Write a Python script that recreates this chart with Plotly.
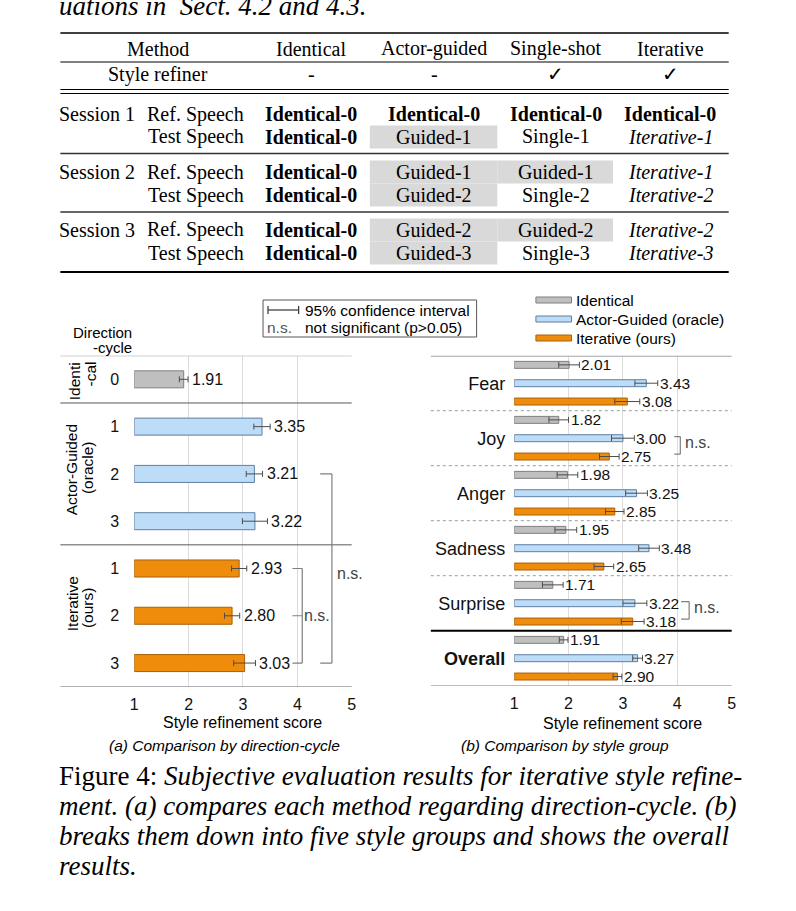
import plotly.graph_objects as go

W, H = 796, 911

# ---------------- data ----------------
intro_line = "uations in  Sect. 4.2 and 4.3."

table_header = ["Method", "Identical", "Actor-guided", "Single-shot", "Iterative"]
table_refiner = ["Style refiner", "-", "-", "✓", "✓"]
session_names = ["Session 1", "Session 2", "Session 3"]
speech_roles = ["Ref. Speech", "Test Speech"]
cells_identical = ["Identical-0", "Identical-0", "Identical-0", "Identical-0", "Identical-0", "Identical-0"]
cells_actor = ["Identical-0", "Guided-1", "Guided-1", "Guided-2", "Guided-2", "Guided-3"]
cells_single = ["Identical-0", "Single-1", "Guided-1", "Single-2", "Guided-2", "Single-3"]
cells_iterative = ["Identical-0", "Iterative-1", "Iterative-1", "Iterative-2", "Iterative-2", "Iterative-3"]

dir_groups = ["Identical", "Actor-Guided", "Actor-Guided", "Actor-Guided", "Iterative", "Iterative", "Iterative"]
dir_cycles = ["0", "1", "2", "3", "1", "2", "3"]
dir_scores = [1.91, 3.35, 3.21, 3.22, 2.93, 2.80, 3.03]
dir_ci = [0.08, 0.15, 0.15, 0.23, 0.14, 0.14, 0.20]

style_groups = ["Fear", "Joy", "Anger", "Sadness", "Surprise", "Overall"]
method_names = ["Identical", "Actor-Guided (oracle)", "Iterative (ours)"]
score_identical = [2.01, 1.82, 1.98, 1.95, 1.71, 1.91]
score_actor = [3.43, 3.00, 3.25, 3.48, 3.22, 3.27]
score_iterative = [3.08, 2.75, 2.85, 2.65, 3.18, 2.90]
ci_identical = [0.19, 0.18, 0.19, 0.20, 0.19, 0.08]
ci_actor = [0.21, 0.21, 0.20, 0.19, 0.22, 0.09]
ci_iterative = [0.23, 0.18, 0.17, 0.18, 0.21, 0.08]

score_ticks = [1, 2, 3, 4, 5]

caption_label = "Figure 4:"
caption_lines = [
    "Subjective evaluation results for iterative style refine-",
    "ment. (a) compares each method regarding direction-cycle. (b)",
    "breaks them down into five style groups and shows the overall",
    "results.",
]
sub_a = "(a) Comparison by direction-cycle"
sub_b = "(b) Comparison by style group"
axis_title = "Style refinement score"

# ---------------- style ----------------
SERIF = "Liberation Serif, Times New Roman, serif"
SANS = "Liberation Sans, Arial, sans-serif"
FILL = {"Identical": "#bfbfbf", "Actor-Guided": "#bddcf7", "Iterative": "#ef8c0c"}
EDGE = {"Identical": "#7f7f7f", "Actor-Guided": "#5f7fa3", "Iterative": "#a7620a"}
METHOD_KEYS = ["Identical", "Actor-Guided", "Iterative"]
PAD = 3  # annotation box padding compensation


def X(p):
    return p / W


def Y(p):
    return 1 - p / H


anns = []
shapes = []


def text(x, y, s, size, family=SANS, xanchor="center", color="#000", **kw):
    if xanchor == "left":
        x -= PAD
    elif xanchor == "right":
        x += PAD
    d = dict(x=X(x), y=Y(y), xref="paper", yref="paper", text=s, showarrow=False,
             xanchor=xanchor, yanchor=kw.pop("yanchor", "middle"),
             font=dict(family=family, size=size, color=color))
    d.update(kw)
    anns.append(d)


def hline(x0, x1, y, width=1.0, color="#000", dash="solid"):
    shapes.append(dict(type="line", xref="paper", yref="paper", x0=X(x0), x1=X(x1),
                       y0=Y(y), y1=Y(y), line=dict(width=width, color=color, dash=dash)))


def rect(x0, y0, x1, y1, fill="rgba(0,0,0,0)", line="rgba(0,0,0,0)", lw=0, layer="below"):
    shapes.append(dict(type="rect", xref="paper", yref="paper", x0=X(x0), x1=X(x1),
                       y0=Y(y0), y1=Y(y1), fillcolor=fill, line=dict(color=line, width=lw),
                       layer=layer))


# ---------------- top text + table ----------------
text(57, 6, "<i>" + intro_line + "</i>", 27, family=SERIF, xanchor="left")

TL, TR = 57, 733
col_x = [156, 311, 435, 558, 674]
hline(TL, TR, 33, 1.5)
for cx, h in zip(col_x, table_header):
    text(cx, 49, h, 20, family=SERIF)
hline(TL, TR, 62, 1)
for cx, h in zip(col_x, table_refiner):
    text(cx, 74, h, 20, family=SERIF)
hline(TL, TR, 89.5, 1)
hline(TL, TR, 93.5, 1)

row_y = [114, 137, 172, 195, 230, 253]
shade_bounds = {2: (370, 499), 3: (499, 616)}
columns = [cells_identical, cells_actor, cells_single, cells_iterative]
for i, ry in enumerate(row_y):
    if i % 2 == 0:
        text(57, ry, session_names[i // 2], 20, family=SERIF, xanchor="left")
    text(242, ry, speech_roles[i % 2], 20, family=SERIF, xanchor="right")
    for c, cells in enumerate(columns, start=1):
        v = cells[i]
        s = v
        if v.startswith("Identical"):
            s = "<b>" + v + "</b>"
        elif v.startswith("Iterative"):
            s = "<i>" + v + "</i>"
        elif v.startswith("Guided") and c in shade_bounds:
            x0, x1 = shade_bounds[c]
            rect(x0, ry - 11.5, x1, ry + 11.5, fill="#d9d9d9")
        text(col_x[c], ry, s, 20, family=SERIF)
hline(TL, TR, 153.5, 1.5, "#333")
hline(TL, TR, 212, 1.5, "#333")
hline(TL, TR, 272, 2.2)

# ---------------- left chart ----------------
L_X0, L_X1 = 131.7, 351.7
L_Y0, L_Y1 = 355.7, 686.7
R_X0, R_X1 = 516.0, 736.0
R_Y0, R_Y1 = 355.7, 685.7

dir_ids = [g + "-" + c for g, c in zip(dir_groups, dir_cycles)]

fig = go.Figure()
fig.add_trace(go.Bar(
    orientation="h", y=dir_ids, x=[s - 1 for s in dir_scores], base=1, width=0.36,
    marker=dict(color=[FILL[g] for g in dir_groups],
                line=dict(color=[EDGE[g] for g in dir_groups], width=1)),
    error_x=dict(type="data", array=dir_ci, color="#4d4d4d", thickness=1, width=3),
    xaxis="x", yaxis="y", hoverinfo="skip"))

for i, (s, e) in enumerate(zip(dir_scores, dir_ci)):
    anns.append(dict(x=s + e, y=dir_ids[i], xref="x", yref="y", text=f"{s:.2f}",
                     showarrow=False, xanchor="left", xshift=2,
                     font=dict(family=SANS, size=16, color="#111")))

# row separators
shapes.append(dict(type="line", xref="paper", yref="y", x0=X(57), x1=X(L_X1), y0=-0.5, y1=-0.5,
                   line=dict(color="#8c8c8c", width=1)))
for yy in (0.5, 3.5):
    shapes.append(dict(type="line", xref="paper", yref="y", x0=X(57), x1=X(L_X1), y0=yy, y1=yy,
                       line=dict(color="#595959", width=1)))
shapes.append(dict(type="line", xref="paper", yref="y", x0=X(57), x1=X(L_X1), y0=6.5, y1=6.5,
                   line=dict(color="#7f7f7f", width=1)))

# significance brackets (left)
BR = "#7f7f7f"
def seg(xr, yr, x0, y0, x1, y1):
    shapes.append(dict(type="line", xref=xr, yref=yr, x0=x0, x1=x1, y0=y0, y1=y1,
                       line=dict(color=BR, width=1.2)))

it1, it2, it3 = dir_ids.index("Iterative-1"), dir_ids.index("Iterative-2"), dir_ids.index("Iterative-3")
ag2 = dir_ids.index("Actor-Guided-2")
seg("x", "y", 4.09, it1, 4.09, it3)
for k in (it1, it2, it3):
    seg("x", "y", 3.91, k, 4.09, k)
anns.append(dict(x=4.09, y=dir_ids[it2], xref="x", yref="y", text="n.s.", showarrow=False,
                 xanchor="left", xshift=0, font=dict(family=SANS, size=16, color="#444")))
seg("x", "y", 4.636, ag2, 4.636, it3)
for k in (ag2, it3):
    seg("x", "y", 4.42, k, 4.636, k)
text(338, 573, "n.s.", 16, xanchor="left", color="#444")

# group labels (rotated)
text(71, 360, "Identi", 15.5, textangle=-90, yanchor="top")
text(87, 360, "-cal", 15.5, textangle=-90, yanchor="top")
text(69, 470, "Actor-Guided", 15.5, textangle=-90)
text(84, 468, "(oracle)", 15.5, textangle=-90)
text(69, 604, "Iterative", 15.5, textangle=-90)
text(84, 608, "(ours)", 15.5, textangle=-90)
text(128, 332, "Direction", 15, xanchor="right")
text(128, 347, "-cycle", 15, xanchor="right")

# legend box (left)
rect(262, 300, 478, 337, line="#595959", lw=1, layer="above")
hline(267, 298, 310, 1.2, "#333")
shapes.append(dict(type="line", xref="paper", yref="paper", x0=X(267), x1=X(267), y0=Y(306), y1=Y(314),
                   line=dict(color="#333", width=1.2)))
shapes.append(dict(type="line", xref="paper", yref="paper", x0=X(298), x1=X(298), y0=Y(306), y1=Y(314),
                   line=dict(color="#333", width=1.2)))
text(305, 310, "95% confidence interval", 15.5, xanchor="left")
text(267, 327, "n.s.", 15.5, xanchor="left", color="#555")
text(305, 327, "not significant (p>0.05)", 15.5, xanchor="left")

text((L_X0 + L_X1) / 2, 722, axis_title, 16)
text(223, 745, "<i>" + sub_a + "</i>", 15.5)

# ---------------- right chart ----------------
r_scores = [score_identical, score_actor, score_iterative]
r_ci = [ci_identical, ci_actor, ci_iterative]
slot_px = (R_Y1 - R_Y0) / len(style_groups) / 3
for k, (key, sc, ci) in enumerate(zip(METHOD_KEYS, r_scores, r_ci)):
    fig.add_trace(go.Bar(
        orientation="h", y=style_groups, x=[s - 1 for s in sc], base=1, name=method_names[k],
        marker=dict(color=FILL[key], line=dict(color=EDGE[key], width=1)),
        error_x=dict(type="data", array=ci, color="#4d4d4d", thickness=1, width=3),
        xaxis="x2", yaxis="y2", hoverinfo="skip"))
    for g, s, e in zip(style_groups, sc, ci):
        anns.append(dict(x=s + e, y=g, xref="x2", yref="y2", text=f"{s:.2f}", showarrow=False,
                         xanchor="left", xshift=0, yshift=(1 - k) * slot_px,
                         font=dict(family=SANS, size=15.5, color="#111")))

shapes.append(dict(type="line", xref="paper", yref="y2", x0=X(431.7), x1=X(R_X1), y0=-0.5, y1=-0.5,
                   line=dict(color="#a6a6a6", width=2)))
for yy in (0.5, 1.5, 2.5, 3.5):
    shapes.append(dict(type="line", xref="paper", yref="y2", x0=X(431.7), x1=X(R_X1), y0=yy, y1=yy,
                       line=dict(color="#9a9a9a", width=1, dash="dot")))
shapes.append(dict(type="line", xref="paper", yref="y2", x0=X(431.7), x1=X(R_X1), y0=4.5, y1=4.5,
                   line=dict(color="#000", width=2)))
shapes.append(dict(type="line", xref="paper", yref="y2", x0=X(431.7), x1=X(R_X1), y0=5.5, y1=5.5,
                   line=dict(color="#a6a6a6", width=1.5)))

# significance brackets (right)
for grp, bx, tx in (("Joy", 4.055, 3.945), ("Surprise", 4.218, 4.07)):
    gi = style_groups.index(grp)
    ya, yb = gi - 0.03, gi + 0.29
    seg("x2", "y2", bx, ya, bx, yb)
    seg("x2", "y2", tx, ya, bx, ya)
    seg("x2", "y2", tx, yb, bx, yb)
    anns.append(dict(x=bx, y=grp, xref="x2", yref="y2", text="n.s.", showarrow=False,
                     xanchor="left", xshift=3, yshift=-0.07 * 55,
                     font=dict(family=SANS, size=16, color="#444")))

# legend (right)
for k, (key, name) in enumerate(zip(METHOD_KEYS, method_names)):
    ly = 300 + 19 * k
    rect(538, ly - 3, 574, ly + 3, fill=FILL[key], line=EDGE[key], lw=1, layer="above")
    text(580, ly, name, 15.5, xanchor="left")

text((R_X0 + R_X1) / 2, 723, axis_title, 16)
text(567, 745, "<i>" + sub_b + "</i>", 15.5)

# ---------------- figure caption ----------------
for i, line in enumerate(caption_lines):
    s = "<i>" + line + "</i>"
    if i == 0:
        s = caption_label + " " + s
    text(57, 776 + 30 * i, s, 27, family=SERIF, xanchor="left")

# ---------------- layout ----------------
axis_common = dict(range=[1, 5], tickvals=score_ticks, showgrid=True, gridcolor="#dcdcdc",
                   gridwidth=1, zeroline=False, showline=False, ticks="",
                   tickfont=dict(family=SANS, size=16, color="#111"), ticklabelstandoff=6,
                   fixedrange=True)

fig.update_layout(
    width=W, height=H, margin=dict(l=0, r=0, t=0, b=0),
    paper_bgcolor="white", plot_bgcolor="white", showlegend=False,
    barmode="group", bargap=0, bargroupgap=0.62,
    font=dict(family=SANS, size=15, color="#111"),
    xaxis=dict(domain=[X(L_X0), X(L_X1)], anchor="y", **axis_common),
    yaxis=dict(domain=[Y(L_Y1), Y(L_Y0)], anchor="x", type="category", range=[6.5, -0.5],
               tickvals=dir_ids, ticktext=dir_cycles, ticks="", showgrid=False, zeroline=False,
               tickfont=dict(family=SANS, size=16, color="#111"), ticklabelstandoff=14),
    xaxis2=dict(domain=[X(R_X0), X(R_X1)], anchor="y2", **axis_common),
    yaxis2=dict(domain=[Y(R_Y1), Y(R_Y0)], anchor="x2", type="category", range=[5.5, -0.5],
                tickvals=style_groups,
                ticktext=[g if g != "Overall" else "<b>Overall</b>" for g in style_groups],
                ticks="", showgrid=False, zeroline=False,
                tickfont=dict(family=SANS, size=18, color="#111"), ticklabelstandoff=8),
    annotations=anns, shapes=shapes,
)

fig.write_html(
    "out.html",
    config={"displayModeBar": False},
    post_script="document.body.style.margin='0';document.body.style.padding='0';"
                "document.documentElement.style.overflow='hidden';",
)
